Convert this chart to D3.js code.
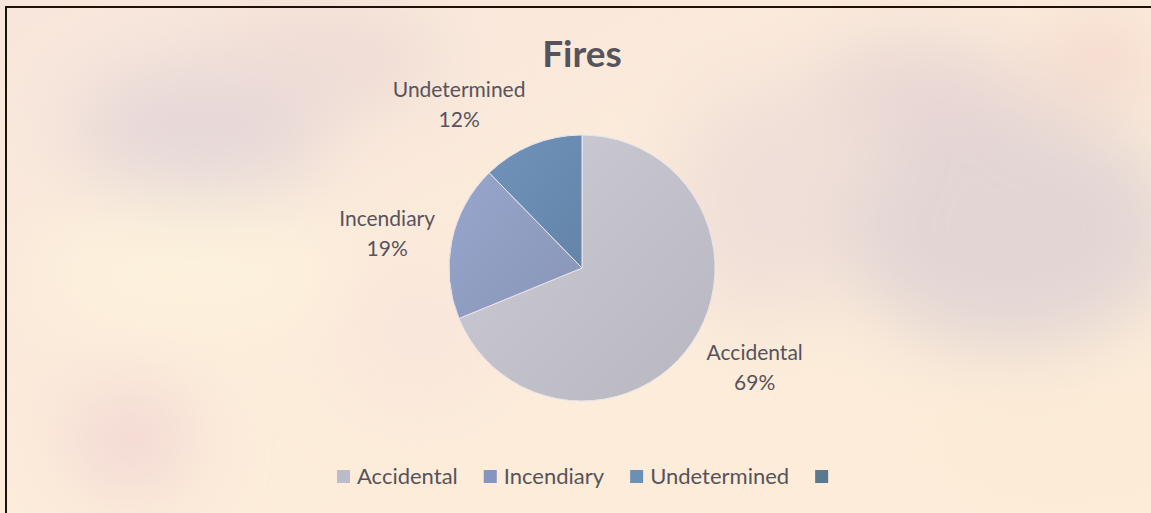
<!DOCTYPE html>
<html>
<head>
<meta charset="utf-8">
<script src="https://cdn.jsdelivr.net/npm/d3@7"></script>
<style>
  html, body { margin: 0; padding: 0; background: #fcecda; overflow: hidden; }
  text { font-family: Lato, "Open Sans", sans-serif; }
</style>
</head>
<body>
<div id="chart"></div>
<script>
// pie of fire causes
const categories = ["Accidental", "Incendiary", "Undetermined"]
const values = [68.8, 18.9, 12.3]
const legendLabels = ["Accidental", "Incendiary", "Undetermined", ""]
const title = "Fires"

const width = 1151
const height = 513
const cx = 582, cy = 268, radius = 133

const sliceColors = ["#c2c1cb", "#8f9dc1", "#6a8bb1"]
const legendColors = ["#bbbcca", "#8694c1", "#6a90b6", "#587990"]
const textColor = "#57535c"

const svg = d3.select("#chart")
  .append("svg")
  .attr("width", width)
  .attr("height", height)

const defs = svg.append("defs")

// soft blurred background, like a faded photo
defs.append("filter").attr("id", "blur")
  .attr("x", "-50%").attr("y", "-50%").attr("width", "200%").attr("height", "200%")
  .append("feGaussianBlur").attr("stdDeviation", 38)

const bgGrad = defs.append("linearGradient").attr("id", "bg")
  .attr("x1", 0).attr("y1", 0).attr("x2", 1).attr("y2", 1)
bgGrad.append("stop").attr("offset", "0%").attr("stop-color", "#f8e6dc")
bgGrad.append("stop").attr("offset", "50%").attr("stop-color", "#fcecda")
bgGrad.append("stop").attr("offset", "100%").attr("stop-color", "#fcecd8")

svg.append("rect").attr("width", width).attr("height", height).attr("fill", "url(#bg)")

const blobs = [
  [200, 130, 130, 70, "#e6d8d8"],
  [330, 60, 120, 50, "#eedcd6"],
  [190, 270, 150, 70, "#fdf2dc"],
  [130, 440, 60, 50, "#f2d6d4"],
  [1010, 230, 170, 120, "#e2d5d4"],
  [920, 90, 110, 50, "#e8d6d4"],
  [1100, 60, 60, 40, "#f3d6cc"],
  [1050, 430, 130, 50, "#fcecd6"],
  [760, 200, 90, 120, "#f0dfd8"],
  [420, 330, 80, 70, "#f9e6dc"]
]
const bg = svg.append("g").attr("filter", "url(#blur)")
blobs.forEach(b => {
  bg.append("ellipse")
    .attr("cx", b[0]).attr("cy", b[1]).attr("rx", b[2]).attr("ry", b[3])
    .attr("fill", b[4])
})

// frame, clipped on right and bottom
svg.append("path")
  .attr("d", `M6,${height} V7 H${width}`)
  .attr("fill", "none")
  .attr("stroke", "#1c140c")
  .attr("stroke-width", 2)

// title
svg.append("text")
  .attr("x", cx)
  .attr("y", 67)
  .attr("text-anchor", "middle")
  .attr("font-size", 37)
  .attr("font-weight", "bold")
  .attr("fill", textColor)
  .text(title)

// slice gradients
sliceColors.forEach((c, i) => {
  const g = defs.append("linearGradient").attr("id", "slice" + i)
    .attr("x1", 0).attr("y1", 0).attr("x2", 1).attr("y2", 1)
  g.append("stop").attr("offset", "0%").attr("stop-color", d3.color(c).brighter(0.15))
  g.append("stop").attr("offset", "100%").attr("stop-color", d3.color(c).darker(0.15))
})

const pie = d3.pie().sort(null).value(d => d)
const arcs = pie(values)
const arc = d3.arc().innerRadius(0).outerRadius(radius)

const pieG = svg.append("g").attr("transform", `translate(${cx},${cy})`)

pieG.selectAll("path")
  .data(arcs)
  .join("path")
  .attr("d", arc)
  .attr("fill", (d, i) => `url(#slice${i})`)
  .attr("stroke", "#e8e4ec")
  .attr("stroke-width", 1)

// outside-end labels
const total = d3.sum(values)
const labelR = radius + 17
arcs.forEach((d, i) => {
  const a = (d.startAngle + d.endAngle) / 2
  const sx = Math.sin(a), sy = -Math.cos(a)
  const t = pieG.append("text")
    .attr("text-anchor", "middle")
    .attr("font-size", 21)
    .attr("fill", textColor)
  t.append("tspan").attr("x", 0).attr("dy", 0).text(categories[i])
  t.append("tspan").attr("x", 0).attr("dy", 30).text(Math.round(values[i] / total * 100) + "%")
  const bb = t.node().getBBox()
  const bx = labelR * sx + Math.sign(sx) * bb.width / 2
  const by = labelR * sy + sy * bb.height / 2
  t.attr("transform", `translate(${bx},${by - bb.y - bb.height / 2})`)
})

// legend
const legend = svg.append("g")
let lx = 337
legendLabels.forEach((name, i) => {
  legend.append("rect")
    .attr("x", lx).attr("y", 470)
    .attr("width", 13).attr("height", 13)
    .attr("fill", legendColors[i])
  lx += 20
  if (name) {
    const t = legend.append("text")
      .attr("x", lx).attr("y", 484)
      .attr("font-size", 22)
      .attr("fill", textColor)
      .text(name)
    lx += t.node().getComputedTextLength() + 26
  }
})
</script>
</body>
</html>
